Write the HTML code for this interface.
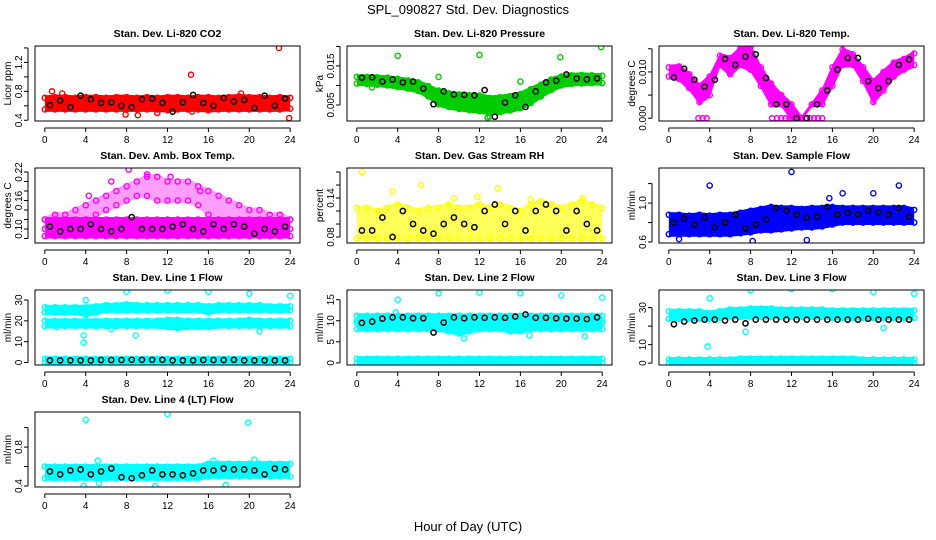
<!DOCTYPE html>
<html><head><meta charset="utf-8"><style>
html,body{margin:0;padding:0;background:#fff;}
svg{display:block;font-family:"Liberation Sans",sans-serif;}
</style></head><body>
<svg id="chart" width="936" height="540" viewBox="0 0 936 540" xmlns="http://www.w3.org/2000/svg">
<rect width="936" height="540" fill="#fff"/>
<text x="468" y="14" text-anchor="middle" font-size="13">SPL_090827  Std. Dev. Diagnostics</text>
<text x="468" y="531" text-anchor="middle" font-size="13">Hour of Day (UTC)</text>
</svg>
<script>
const HOURS = [0,1,2,3,4,5,6,7,8,9,10,11,12,13,14,15,16,17,18,19,20,21,22,23,24];
const BHOURS = [0.5,1.5,2.5,3.5,4.5,5.5,6.5,7.5,8.5,9.5,10.5,11.5,12.5,13.5,14.5,15.5,16.5,17.5,18.5,19.5,20.5,21.5,22.5,23.5];
const XTICKS = [0,4,8,12,16,20,24];

// P1 CO2
const co2Lo = [0.55,0.55,0.55,0.55,0.55,0.55,0.55,0.55,0.55,0.55,0.55,0.55,0.54,0.55,0.55,0.55,0.54,0.55,0.55,0.55,0.55,0.55,0.55,0.55,0.56];
const co2Hi = [0.71,0.72,0.72,0.71,0.72,0.72,0.71,0.72,0.72,0.71,0.72,0.71,0.72,0.72,0.71,0.72,0.72,0.71,0.72,0.73,0.72,0.72,0.71,0.72,0.71];
const co2OutX = [14.3,22.9,23.9,0.7,1.7,7.9,9.1,11,14.4,19.2];
const co2OutY = [1.03,1.40,0.43,0.80,0.77,0.48,0.47,0.50,0.52,0.77];
const co2Black = [0.61,0.67,0.58,0.74,0.69,0.64,0.65,0.60,0.58,0.69,0.70,0.64,0.52,0.65,0.75,0.64,0.60,0.71,0.66,0.68,0.57,0.74,0.60,0.70];
// P2 Pressure
const prLo = [0.0105,0.0104,0.0102,0.0100,0.0096,0.0092,0.0086,0.0072,0.0052,0.0045,0.0040,0.0037,0.0034,0.0030,0.0032,0.0036,0.0042,0.0055,0.0072,0.0088,0.0100,0.0104,0.0105,0.0106,0.0106];
const prHi = [0.0122,0.0122,0.0121,0.0120,0.0117,0.0113,0.0108,0.0098,0.0085,0.0080,0.0077,0.0075,0.0074,0.0068,0.0070,0.0073,0.0078,0.0090,0.0102,0.0115,0.0123,0.0126,0.0127,0.0126,0.0125];
const prOutX = [4,12,19.9,23.9,8,8,16,12.8,1.5,13];
const prOutY = [0.0176,0.0178,0.0172,0.0198,0.0122,0.0087,0.0110,0.0018,0.0095,0.0020];
const prBlack = [0.0120,0.0121,0.0110,0.0115,0.0108,0.0110,0.0092,0.0052,0.0085,0.0077,0.0076,0.0075,0.0088,0.0020,0.0056,0.0075,0.0045,0.0085,0.0108,0.0112,0.0128,0.0118,0.0116,0.0118];
// P3 Li-820 Temp
const ltLo = [0.0090,0.0085,0.0065,0.0035,0.0050,0.0115,0.0095,0.0115,0.0105,0.0070,0.0030,0.0030,0.0000,0.0000,0.0030,0.0030,0.0070,0.0115,0.0115,0.0080,0.0035,0.0060,0.0090,0.0105,0.0115];
const ltHi = [0.0110,0.0112,0.0095,0.0070,0.0090,0.0135,0.0130,0.0150,0.0155,0.0110,0.0075,0.0050,0.0030,0.0000,0.0030,0.0060,0.0110,0.0148,0.0138,0.0110,0.0080,0.0100,0.0120,0.0128,0.0140];
const ltOutX = [2.9,3.3,3.7,10.1,10.6,11.0,11.4,11.8,12.2,12.6,13.0,13.4,13.8,14.2,14.6,15.0];
const ltOutY = [0,0,0,0,0,0,0,0,0,0,0,0,0,0,0,0];
const ltBlack = [0.0088,0.0107,0.0083,0.0068,0.0083,0.0128,0.0115,0.0133,0.0138,0.0087,0.0030,0.0030,0.0000,0.0000,0.0030,0.0060,0.0105,0.0130,0.0130,0.0080,0.0065,0.0080,0.0115,0.0127];
// P4 Amb Box Temp
const abLo = [0.085,0.085,0.085,0.085,0.085,0.085,0.085,0.085,0.085,0.085,0.085,0.085,0.085,0.085,0.085,0.085,0.085,0.085,0.085,0.085,0.085,0.085,0.085,0.085,0.085];
const abHi = [0.12,0.12,0.12,0.12,0.12,0.12,0.12,0.12,0.12,0.12,0.12,0.12,0.12,0.12,0.12,0.12,0.12,0.12,0.12,0.12,0.12,0.12,0.12,0.12,0.12];
const ab2Lo = [0.10,0.10,0.10,0.11,0.12,0.13,0.14,0.15,0.16,0.17,0.17,0.16,0.16,0.16,0.16,0.15,0.13,0.12,0.12,0.11,0.11,0.11,0.10,0.10,0.10];
const ab2Hi = [0.12,0.13,0.13,0.14,0.15,0.16,0.17,0.18,0.19,0.20,0.21,0.21,0.20,0.20,0.20,0.19,0.18,0.17,0.16,0.15,0.14,0.14,0.13,0.13,0.12];
const abOutX = [8.2,10,12.3,4.3,6.5,15.2];
const abOutY = [0.225,0.215,0.21,0.17,0.20,0.18];
const abBlack = [0.105,0.095,0.10,0.10,0.11,0.10,0.095,0.10,0.125,0.10,0.10,0.10,0.105,0.11,0.10,0.095,0.11,0.10,0.11,0.105,0.09,0.10,0.095,0.105];
// P5 Gas Stream RH
const rhLo = [0.078,0.078,0.078,0.078,0.078,0.078,0.078,0.078,0.078,0.078,0.078,0.078,0.078,0.078,0.078,0.078,0.078,0.078,0.078,0.078,0.078,0.078,0.078,0.078,0.078];
const rhHi = [0.125,0.125,0.12,0.125,0.13,0.125,0.12,0.125,0.125,0.13,0.125,0.125,0.13,0.125,0.13,0.125,0.12,0.13,0.135,0.13,0.125,0.13,0.135,0.13,0.125];
const rhOutX = [0.5,6.3,13.8,3.5,9.5,22.1,17,11.8];
const rhOutY = [0.18,0.16,0.155,0.15,0.14,0.14,0.138,0.142];
const rhBlack = [0.09,0.09,0.11,0.08,0.12,0.10,0.09,0.085,0.10,0.11,0.10,0.095,0.12,0.13,0.10,0.12,0.09,0.12,0.13,0.12,0.09,0.12,0.10,0.09];
// P6 Sample Flow
const sfLo = [0.68,0.68,0.68,0.68,0.68,0.68,0.68,0.69,0.70,0.72,0.72,0.73,0.74,0.75,0.75,0.76,0.78,0.80,0.80,0.80,0.80,0.80,0.80,0.80,0.80];
const sfHi = [0.88,0.88,0.87,0.88,0.87,0.88,0.88,0.90,0.92,0.94,0.96,0.95,0.95,0.94,0.95,0.95,0.96,0.95,0.95,0.95,0.95,0.95,0.95,0.95,0.93];
const sfOutX = [12,4,22.5,20,17,13.5,8.2,1,15.7];
const sfOutY = [1.32,1.18,1.18,1.10,1.10,0.62,0.61,0.63,1.05];
const sfBlack = [0.80,0.84,0.78,0.85,0.75,0.80,0.88,0.74,0.78,0.83,0.95,0.92,0.88,0.85,0.86,0.96,0.88,0.90,0.88,0.92,0.90,0.88,0.95,0.86];
// P7 Line 1
const l1aLo = [24,24,24,24,23,24,25,25,25,25,25,25,25,25,25,25,24,25,25,25,25,25,25,25,25];
const l1aHi = [26.5,26.5,26.5,26.5,26.5,27,27.5,27.5,28,27.5,27.5,27.5,27.5,27.5,27.5,27.5,27,27.5,27.5,27.5,27.5,27.5,27,27,27];
const l1bLo = [17.5,17.5,17.5,17.5,17.5,17.5,17.5,17.5,17.5,17.5,17.5,17.5,17,16.5,17,17,17,17.5,17.5,17.5,17.5,17.5,17.5,17.5,17.5];
const l1bHi = [20,20,20,20,20,20,20,20,20,20,20,20,20.5,20.5,20,20,20,20,20,20,20.5,20,20,20,20];
const l1cLo = [0,0,0,0,0,0,0,0,0,0,0,0,0,0,0,0,0,0,0,0,0,0,0,0,0];
const l1cHi = [1.8,1.8,1.8,1.8,1.8,1.8,1.8,1.8,1.8,1.8,1.8,1.8,1.8,1.8,1.8,1.8,1.8,1.8,1.8,1.8,1.8,1.8,1.8,1.8,1.8];
const l1OutX = [4,8,12,16,20,24,3.8,3.8,6.5,8.9,21,1.2];
const l1OutY = [30,34,34.5,34,33,32,13,9.5,16,13,15,17];
const l1Black = [1,1,1,1,1,1.2,1.2,1.2,1.3,1.3,1.3,1.3,1,1,1,1.2,1.2,1.2,1.3,1,1,1,1,1];
// P8 Line 2
const l2aLo = [10,10,10,10,10,10,10,10,10,10,10,10,10,10,10,10,10,10,10,10,10,10,10,10,10];
const l2aHi = [11.2,11.2,11.2,11.2,11.2,11.2,11.2,11.2,11.2,11.2,11.2,11.2,11.2,11.2,11.2,11.2,11.2,11.2,11.2,11.2,11.2,11.2,11.2,11.2,11.2];
const l2bLo = [8,8,8,8,8,8,8,8,8,7.5,7,7.5,8,8,8,7.5,7.5,8,8,8,8,8,8,8,8];
const l2bHi = [9.5,9.5,9.5,9.5,9.5,9.5,9.5,9.5,9.5,9.5,9.5,9.5,9.5,9.5,9.5,9.5,9.5,9.5,9.5,9.5,9.5,9.5,9.5,9.5,9.5];
const l2cLo = [0,0,0,0,0,0,0,0,0,0,0,0,0,0,0,0,0,0,0,0,0,0,0,0,0];
const l2cHi = [1,1,1,1,1,1,1,1,1,1,1,1,1,1,1,1,1,1,1,1,1,1,1,1,1];
const l2OutX = [4,8,12,16,20,24,10.5,16.9,22.3,3.8];
const l2OutY = [15,16.5,16.7,16.5,16,15.5,5.8,6.5,6.3,12];
const l2Black = [9.5,9.8,10.5,10.8,10.8,10.6,10.6,7.2,9.6,10.8,10.6,10.8,10.7,10.8,10.7,11.0,11.5,10.7,10.7,10.6,10.5,10.5,10.4,10.8];
// P9 Line 3
const l3aLo = [24,24,24,24,24,24.5,25,25,25,25,25,25,25,25,25,25,24.5,24.5,24.5,24.5,24.5,24.5,24.5,24.5,24.5];
const l3aHi = [28,28,28,28,27,28,29,29,29.5,29.5,29.5,29,29,29,29,29,28.5,28.5,28.5,28.5,28.5,28.5,28.5,28.5,28.5];
const l3cLo = [0,0,0,0,0,0,0,0,0,0,0,0,0,0,0,0,0,0,0,0,0,0,0,0,0];
const l3cHi = [2,2,2,2,2,2,2,2.5,2.5,2.5,2.5,2.5,2.5,2.5,2.5,2.5,2.5,2.5,2.5,2,2,2,2,2,2];
const l3OutX = [4,8,12,16,20,24,3.8,7.5,21];
const l3OutY = [35,39.5,40,40,38.5,37.5,9,17,19];
const l3Black = [21,22.5,23,23.5,23.5,23,23.5,21.5,23.5,23.5,23.5,23.5,23.5,23.5,23.5,23.5,23.5,23.5,23.5,24,23.5,23.5,23.5,23.5];
// P10 Line 4
const l4Lo = [0.48,0.48,0.48,0.48,0.48,0.48,0.48,0.48,0.48,0.48,0.48,0.48,0.48,0.48,0.48,0.48,0.50,0.50,0.50,0.50,0.50,0.50,0.50,0.50,0.50];
const l4Hi = [0.60,0.60,0.60,0.60,0.60,0.60,0.60,0.60,0.60,0.60,0.60,0.60,0.60,0.60,0.60,0.60,0.63,0.63,0.63,0.63,0.63,0.63,0.63,0.63,0.63];
const l4OutX = [4,12,19.9,3.8,10.8,17.7,5.3,5.2,16.5,20.5];
const l4OutY = [1.08,1.14,1.05,0.40,0.40,0.41,0.43,0.66,0.66,0.67];
const l4Black = [0.55,0.52,0.56,0.57,0.52,0.55,0.58,0.49,0.48,0.51,0.56,0.52,0.52,0.51,0.53,0.56,0.56,0.58,0.57,0.57,0.56,0.52,0.58,0.57];

const panels = [
 {id:'co2',col:0,row:0,title:'Stan. Dev. Li-820 CO2',ylab:'Licor ppm',ymin:0.39,ymax:1.427,ticks:[0.4,0.6,0.8,1.0,1.2,1.4],labels:{'0.4':'0.4','0.8':'0.8','1.2':'1.2'},color:'#ff0000',bands:[[co2Lo,co2Hi,1]],ox:co2OutX,oy:co2OutY,black:co2Black},
 {id:'pressure',col:1,row:0,title:'Stan. Dev. Li-820 Pressure',ylab:'kPa',ymin:0.0009,ymax:0.0201,ticks:[0.005,0.010,0.015,0.020],labels:{'0.005':'0.005','0.015':'0.015'},color:'#00cd00',bands:[[prLo,prHi,1]],ox:prOutX,oy:prOutY,black:prBlack},
 {id:'li820-temp',col:2,row:0,title:'Stan. Dev. Li-820 Temp.',ylab:'degrees C',ymin:-0.0006,ymax:0.0156,ticks:[0,0.005,0.010,0.015],labels:{'0':'0.000','0.01':'0.010'},color:'#ff00ff',bands:[[ltLo,ltHi,1]],ox:ltOutX,oy:ltOutY,black:ltBlack},
 {id:'amb-box-temp',col:0,row:1,title:'Stan. Dev. Amb. Box Temp.',ylab:'degrees C',ymin:0.0705,ymax:0.2284,ticks:[0.08,0.10,0.12,0.14,0.16,0.18,0.20,0.22],labels:{'0.1':'0.10','0.16':'0.16','0.22':'0.22'},color:'#ff00ff',bands:[[abLo,abHi,1],[ab2Lo,ab2Hi,0.38]],ox:abOutX,oy:abOutY,black:abBlack},
 {id:'gas-rh',col:1,row:1,title:'Stan. Dev. Gas Stream RH',ylab:'percent',ymin:0.0708,ymax:0.1862,ticks:[0.08,0.10,0.12,0.14,0.16,0.18],labels:{'0.08':'0.08','0.14':'0.14'},color:'#ffff00',bands:[[rhLo,rhHi,0.65]],ox:rhOutX,oy:rhOutY,black:rhBlack},
 {id:'sample-flow',col:2,row:1,title:'Stan. Dev. Sample Flow',ylab:'ml/min',ymin:0.59,ymax:1.36,ticks:[0.6,0.8,1.0,1.2],labels:{'0.6':'0.6','1':'1.0'},color:'#0000ff',bands:[[sfLo,sfHi,1]],ox:sfOutX,oy:sfOutY,black:sfBlack},
 {id:'line1-flow',col:0,row:2,title:'Stan. Dev. Line 1 Flow',ylab:'ml/min',ymin:-1.2,ymax:34.8,ticks:[0,10,20,30],labels:{'0':'0','10':'10','20':'20','30':'30'},color:'#00ffff',bands:[[l1aLo,l1aHi,1],[l1bLo,l1bHi,1],[l1cLo,l1cHi,1]],ox:l1OutX,oy:l1OutY,black:l1Black},
 {id:'line2-flow',col:1,row:2,title:'Stan. Dev. Line 2 Flow',ylab:'ml/min',ymin:-0.5,ymax:17.3,ticks:[0,5,10,15],labels:{'0':'0','5':'5','10':'10','15':'15'},color:'#00ffff',bands:[[l2aLo,l2aHi,1],[l2bLo,l2bHi,1],[l2cLo,l2cHi,1]],ox:l2OutX,oy:l2OutY,black:l2Black},
 {id:'line3-flow',col:2,row:2,title:'Stan. Dev. Line 3 Flow',ylab:'ml/min',ymin:-1,ymax:39.5,ticks:[0,10,20,30],labels:{'0':'0','10':'10','30':'30'},color:'#00ffff',bands:[[l3aLo,l3aHi,1],[l3cLo,l3cHi,1]],ox:l3OutX,oy:l3OutY,black:l3Black},
 {id:'line4-flow',col:0,row:3,title:'Stan. Dev. Line 4 (LT) Flow',ylab:'ml/min',ymin:0.39,ymax:1.16,ticks:[0.4,0.6,0.8,1.0],labels:{'0.4':'0.4','0.8':'0.8'},color:'#00ffff',bands:[[l4Lo,l4Hi,1]],ox:l4OutX,oy:l4OutY,black:l4Black}
];

const NS = 'http://www.w3.org/2000/svg';
const svg = document.getElementById('chart');
function mk(tag, attrs, parent){const e=document.createElementNS(NS,tag);for(const k in attrs)e.setAttribute(k,attrs[k]);parent.appendChild(e);return e;}

panels.forEach(p=>{
  const L=35+p.col*312, R=L+265, T=46+p.row*122, B=T+75;
  const xs=h=>L+(h+0.96)/25.92*(R-L);
  const ys=v=>B-(v-p.ymin)/(p.ymax-p.ymin)*(B-T);
  const g=mk('g',{},svg);
  
  
  const cp=mk('clipPath',{id:'clip-'+p.id},g);
  mk('rect',{x:L,y:T,width:R-L,height:B-T},cp);
  const t=mk('text',{x:(L+R)/2,y:T-9,'text-anchor':'middle','font-size':'10.5','font-weight':'bold'},g);
  t.textContent=p.title;
  
  
  const yl=mk('text',{transform:`translate(${L-24},${(T+B)/2}) rotate(-90)`,'text-anchor':'middle','font-size':'10'},g);
  yl.textContent=p.ylab;
  
  
  const data=mk('g',{'clip-path':`url(#clip-${p.id})`},g);
  
  
  p.bands.forEach(b=>{
    const lo=b[0],hi=b[1],op=b[2];
    let d='M'+HOURS.map((h,i)=>xs(h)+','+(ys(hi[i])-2.5)).join('L');
    d+='L'+HOURS.slice().reverse().map((h,j)=>{const i=HOURS.length-1-j;return xs(h)+','+(ys(lo[i])+2.5);}).join('L')+'Z';
    const band=mk('path',{d:d,fill:p.color,'fill-opacity':op},data);
    
    
    HOURS.forEach((h,i)=>{
      [lo[i],hi[i]].forEach(v=>{
        const c=mk('circle',{cx:xs(h),cy:ys(v),r:2.6,fill:'none',stroke:p.color,'stroke-width':1.4},data);
        
        
      });
    });
  });
  p.ox.forEach((x,i)=>{
    const c=mk('circle',{cx:xs(x),cy:ys(p.oy[i]),r:2.6,fill:'none',stroke:p.color,'stroke-width':1.4},data);
    
    
  });
  p.black.forEach((v,i)=>{
    const c=mk('circle',{cx:xs(BHOURS[i]),cy:ys(v),r:2.6,fill:'none',stroke:'#000','stroke-width':1.5},data);
    
    
  });
  const box=mk('rect',{x:L,y:T,width:R-L,height:B-T,fill:'none',stroke:'#000','stroke-width':1},g);
  
  
  const xa=mk('g',{},g);
  
  
  mk('line',{x1:xs(0),x2:xs(24),y1:B+7,y2:B+7,stroke:'#000'},xa);
  XTICKS.forEach(h=>{
    mk('line',{x1:xs(h),x2:xs(h),y1:B+7,y2:B+11,stroke:'#000'},xa);
    const tl=mk('text',{x:xs(h),y:B+22,'text-anchor':'middle','font-size':'10'},xa);
    tl.textContent=h;
    
    
  });
  const ya=mk('g',{},g);
  
  
  const t0=p.ticks[0], t1=p.ticks[p.ticks.length-1];
  mk('line',{x1:L-7,x2:L-7,y1:ys(t0),y2:ys(t1),stroke:'#000'},ya);
  p.ticks.forEach(v=>{
    mk('line',{x1:L-11,x2:L-7,y1:ys(v),y2:ys(v),stroke:'#000'},ya);
    const key=String(+v.toFixed(6));
    if(p.labels[key]!==undefined){
      const tl=mk('text',{transform:`translate(${L-13},${ys(v)}) rotate(-90)`,'text-anchor':'middle','font-size':'10'},ya);
      tl.textContent=p.labels[key];
      
      
    }
  });
});
</script>
</body></html>
